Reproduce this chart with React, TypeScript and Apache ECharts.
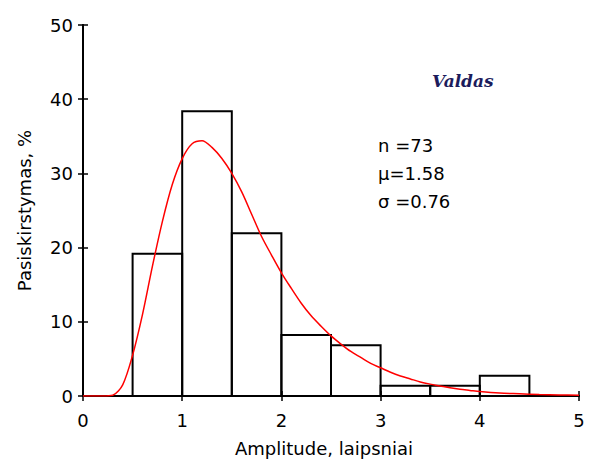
import React, { useEffect, useRef } from "react";
import * as echarts from "echarts";

const binStarts = [0.5, 1.0, 1.5, 2.0, 2.5, 3.0, 3.5, 4.0];
const binWidth = 0.5;
const binPercents = [19.18, 38.36, 21.92, 8.22, 6.85, 1.37, 1.37, 2.74];
const curveX = [0, 0.1, 0.2, 0.3, 0.4, 0.5, 0.6, 0.7, 0.8, 0.9, 1.0, 1.1, 1.2, 1.3, 1.4, 1.5, 1.6, 1.7, 1.8, 1.9, 2.0, 2.1, 2.2, 2.3, 2.4, 2.5, 2.6, 2.7, 2.8, 2.9, 3.0, 3.1, 3.2, 3.3, 3.4, 3.5, 3.6, 3.7, 3.8, 3.9, 4.0, 4.2, 4.4, 4.6, 4.8, 5.0];
const curveY = [0, 0, 0, 0.1, 1.5, 5.5, 11, 17.5, 23.5, 28.5, 32, 34, 34.4, 33.5, 32, 30, 27.5, 24.5, 21.5, 19, 16.6, 14.5, 12.5, 10.8, 9.4, 8.1, 7, 6, 5.2, 4.4, 3.8, 3.2, 2.7, 2.3, 1.9, 1.6, 1.35, 1.1, 0.9, 0.75, 0.6, 0.4, 0.3, 0.2, 0.15, 0.1];
const statLines = ["n =73", "\u00b5=1.58", "\u03c3 =0.76"];
const nameLabel = "Valdas";

export default function App() {
  const ref = useRef<HTMLDivElement>(null);
  useEffect(() => {
    if (!ref.current) return;
    const chart = echarts.init(ref.current, null, { renderer: "svg" });
    const font = "DejaVu Sans, sans-serif";
    const axisCommon = {
      type: "value",
      min: 0,
      axisLine: { show: true, lineStyle: { color: "#000", width: 2 } },
      axisTick: { show: true, inside: true, length: 5, lineStyle: { color: "#000", width: 1.5 } },
      splitLine: { show: false },
    };
    chart.setOption({
      animation: false,
      backgroundColor: "#fff",
      grid: { left: 83, right: 14, top: 25, bottom: 63, containLabel: false, outerBoundsMode: "none" },
      xAxis: [
        {
          ...axisCommon,
          max: 5,
          interval: 1,
          position: "bottom",
          name: "Amplitude, laipsniai",
          nameLocation: "middle",
          nameGap: 43,
          nameTextStyle: { fontFamily: font, fontSize: 18, color: "#000", padding: [0, 14, 0, 0] },
          axisLabel: { fontFamily: font, fontSize: 18, color: "#000", margin: 15 },
        },
        {
          ...axisCommon,
          max: 5,
          interval: 1,
          position: "top",
          axisLabel: { show: false },
        },
      ],
      yAxis: [
        {
          ...axisCommon,
          max: 50,
          interval: 10,
          position: "left",
          name: "Pasiskirstymas, %",
          nameLocation: "middle",
          nameGap: 50,
          nameTextStyle: { fontFamily: font, fontSize: 18, color: "#000" },
          axisLabel: { fontFamily: font, fontSize: 18, color: "#000", margin: 10 },
        },
        {
          ...axisCommon,
          max: 50,
          interval: 10,
          position: "right",
          axisLabel: { show: false },
        },
      ],
      series: [
        {
          type: "custom",
          xAxisIndex: 0,
          yAxisIndex: 0,
          data: binStarts.map((s, i) => [s, s + binWidth, binPercents[i]]),
          renderItem: (params: any, api: any) => {
            const p0 = api.coord([api.value(0), 0]);
            const p1 = api.coord([api.value(1), api.value(2)]);
            return {
              type: "rect",
              shape: { x: p0[0], y: p1[1], width: p1[0] - p0[0], height: p0[1] - p1[1] },
              style: { fill: "none", stroke: "#000", lineWidth: 2 },
            };
          },
          z: 2,
        },
        {
          type: "line",
          xAxisIndex: 0,
          yAxisIndex: 0,
          data: curveX.map((x, i) => [x, curveY[i]]),
          smooth: 0.3,
          showSymbol: false,
          symbol: "none",
          lineStyle: { color: "#ff0000", width: 1.5 },
          z: 3,
        },
      ],
      graphic: [
        {
          type: "text",
          left: 432,
          top: 72,
          style: {
            text: nameLabel,
            font: "italic bold 17px 'DejaVu Serif', serif",
            fill: "#1c1c5c",
          },
        },
        ...statLines.map((t, i) => ({
          type: "text",
          left: 378,
          top: 136 + i * 28,
          style: { text: t, font: "18px 'DejaVu Sans', sans-serif", fill: "#000" },
        })),
      ],
    });
    return () => chart.dispose();
  }, []);
  return <div ref={ref} style={{ width: 593, height: 459, marginLeft: -8, marginTop: -8 }} />;
}
